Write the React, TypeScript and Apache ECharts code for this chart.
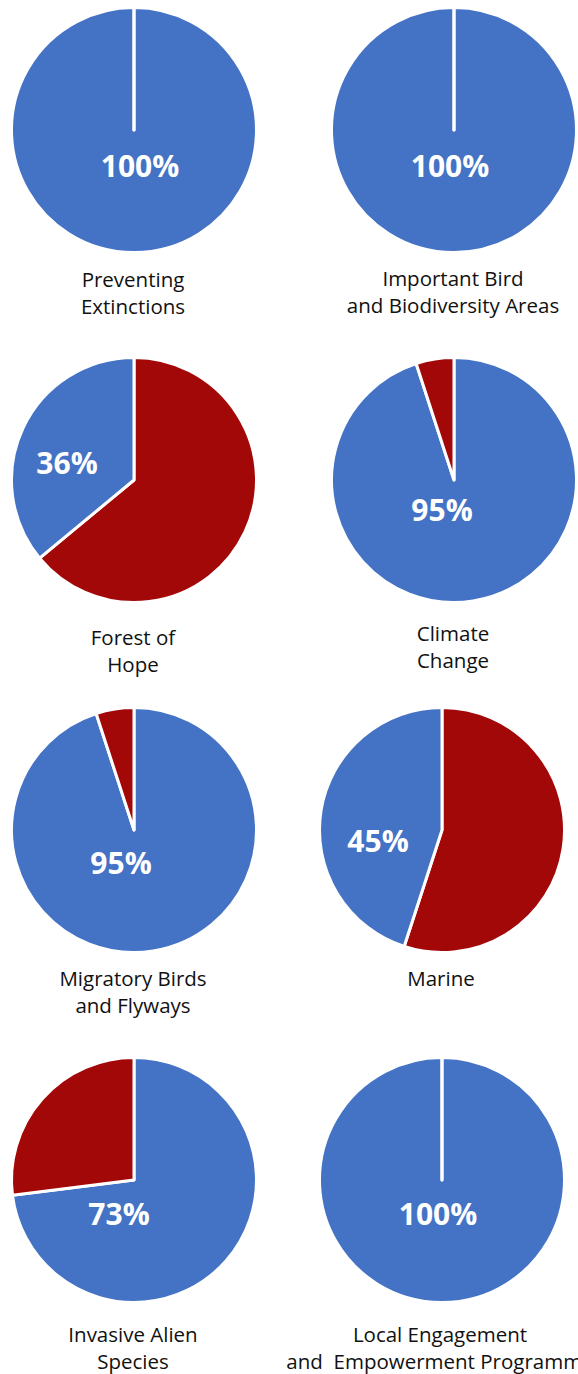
import React, { useEffect, useRef } from "react";
import * as echarts from "echarts";

// Programme areas and the share of each one that is on track vs. not.
const categories = [
  "Preventing\nExtinctions",
  "Important Bird\nand Biodiversity Areas",
  "Forest of\nHope",
  "Climate\nChange",
  "Migratory Birds\nand Flyways",
  "Marine",
  "Invasive Alien\nSpecies",
  "Local Engagement\nand  Empowerment Programme",
];
const onTrackPct = [100, 100, 36, 95, 95, 45, 73, 100];
const otherPct = [0, 0, 64, 5, 5, 55, 27, 0];

const BLUE = "#4472C4";
const RED = "#A30808";

// Grid placement of each pie and its text.
const pieCenters: [number, number][] = [
  [134, 130], [454, 130],
  [134, 480], [454, 480],
  [134, 830], [442, 830],
  [134, 1180], [442, 1180],
];
const pctLabelPos: [number, number][] = [
  [140, 165], [450, 165],
  [67, 462], [442, 509],
  [121, 862], [378, 840],
  [119, 1213], [438, 1213],
];
const nameLabelPos: [number, number][] = [
  [133, 279], [453, 278],
  [133, 637], [453, 633],
  [133, 978], [441, 978],
  [133, 1334], [440, 1334],
];

export default function App() {
  const ref = useRef<HTMLDivElement>(null);

  useEffect(() => {
    if (!ref.current) return;
    const chart = echarts.init(ref.current, undefined, { renderer: "svg" });

    const series = categories.map((name, i) => {
      const slices = [
        { name: "On track", value: onTrackPct[i], itemStyle: { color: BLUE } },
        { name: "Other", value: otherPct[i], itemStyle: { color: RED } },
      ];
      // the larger share starts at twelve o'clock and runs clockwise
      slices.sort((a, b) => b.value - a.value);
      return {
        type: "pie",
        name: name.replace("\n", " "),
        center: pieCenters[i],
        radius: 122.5,
        startAngle: 90,
        clockwise: true,
        minAngle: 0.01,
        silent: true,
        label: { show: false },
        labelLine: { show: false },
        itemStyle: { borderColor: "#ffffff", borderWidth: 3 },
        data: slices,
      };
    });

    const pctTexts = onTrackPct.map((v, i) => ({
      type: "text",
      x: pctLabelPos[i][0],
      y: pctLabelPos[i][1],
      silent: true,
      z: 100,
      style: {
        text: `${v}%`,
        fill: "#ffffff",
        fontFamily: "'Open Sans', sans-serif",
        fontWeight: "bold",
        fontSize: 30,
        align: "center",
        verticalAlign: "middle",
      },
    }));

    const nameTexts = categories.map((name, i) => ({
      type: "text",
      x: nameLabelPos[i][0],
      y: nameLabelPos[i][1] - 13.5,
      silent: true,
      style: {
        text: name,
        fill: "#111111",
        fontFamily: "'Open Sans', sans-serif",
        fontSize: 20.5,
        lineHeight: 27,
        align: "center",
        verticalAlign: "top",
      },
    }));

    chart.setOption({
      animation: false,
      backgroundColor: "#ffffff",
      series,
      graphic: [...pctTexts, ...nameTexts],
    });

    return () => chart.dispose();
  }, []);

  return (
    <div
      ref={ref}
      style={{ position: "absolute", left: 0, top: 0, width: 578, height: 1374 }}
    />
  );
}
